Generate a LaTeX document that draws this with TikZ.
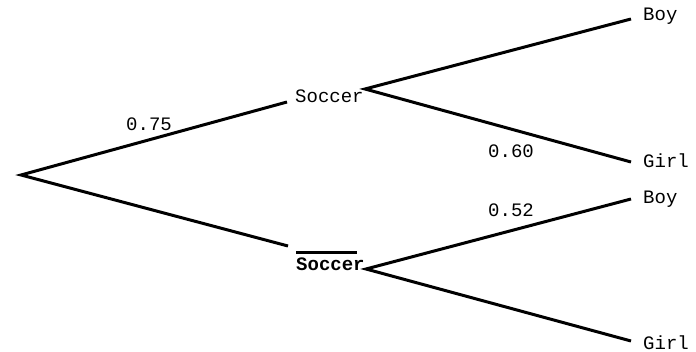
\documentclass[tikz,border=0pt]{standalone}
\usepackage{fontspec}
\setmonofont{Liberation Mono}
\begin{document}
\begin{tikzpicture}[x=1pt,y=-1pt,
  branch/.style={line width=3pt,black},
  lbl/.style={anchor=base west,inner sep=0pt,text depth=0pt,font=\fontsize{19}{19}\selectfont\ttfamily},
  blbl/.style={lbl,font=\fontsize{19}{19}\selectfont\ttfamily\bfseries}]
\useasboundingbox (0,0) rectangle (696,352);
\coordinate (r) at (21,175);
\coordinate (s1in) at (287,102);
\coordinate (s1out) at (365,89);
\coordinate (s2in) at (288,246);
\coordinate (s2out) at (366,269);
\coordinate (b1) at (631,19);
\coordinate (g1) at (631,162);
\coordinate (b2) at (631,199);
\coordinate (g2) at (631,341);
\node[lbl] (soc) at (295,103) {Soccer};
\node[blbl] (nsoc) at (296,270.5) {Soccer};
\draw[line width=3pt] ([yshift=18pt]nsoc.base west) -- ++(61,0);
\node[lbl] (p75) at (126,131) {0.75};
\node[lbl] (p60) at (488,158) {0.60};
\node[lbl] (p52) at (488,217) {0.52};
\node[lbl] (boy1) at (643,21) {Boy};
\node[lbl] (girl1) at (643,168) {Girl};
\node[lbl] (boy2) at (643,204) {Boy};
\node[lbl] (girl2) at (643,349.5) {Girl};
\draw[branch] (s1in) -- (r) -- (s2in);
\draw[branch] (b1) -- (s1out) -- (g1);
\draw[branch] (b2) -- (s2out) -- (g2);
\end{tikzpicture}
\end{document}
